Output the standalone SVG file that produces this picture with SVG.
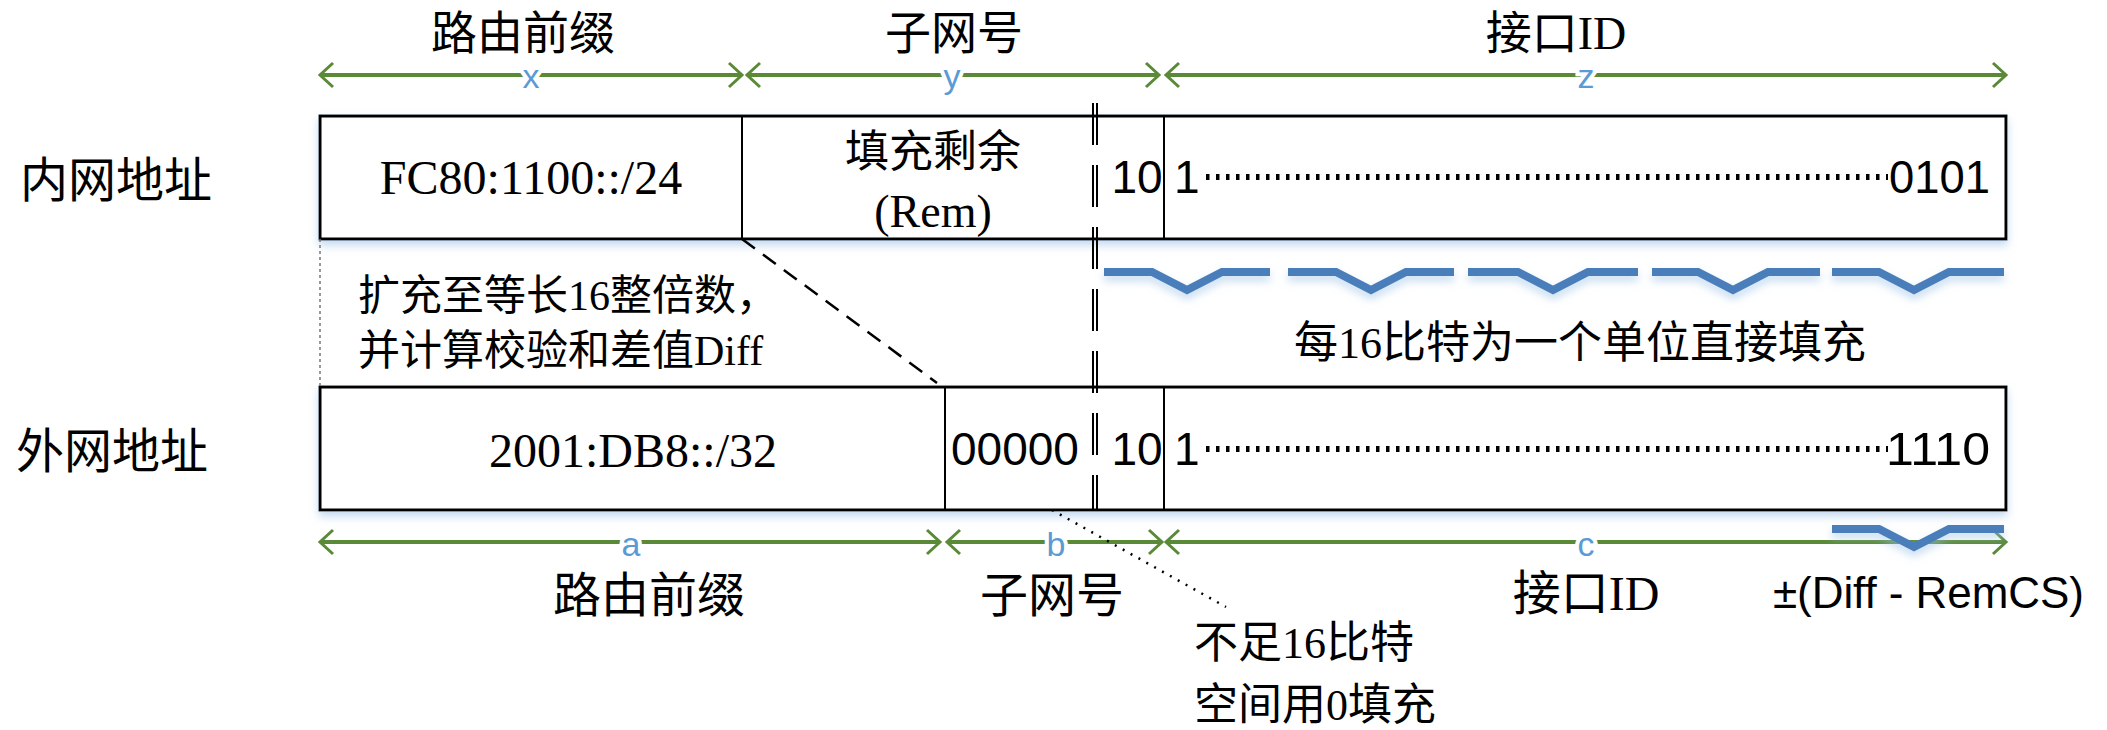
<svg xmlns="http://www.w3.org/2000/svg" width="2107" height="730" viewBox="0 0 2107 730">
<style>
.cjk{font-family:"Liberation Serif","Noto Sans CJK SC",serif;fill:#000}
.ser{font-family:"Liberation Serif","Noto Sans CJK SC",serif;fill:#000}
.sans{font-family:"Liberation Sans","Noto Sans CJK SC",sans-serif;fill:#000}
.lbl{font-family:"Liberation Sans",sans-serif;font-size:34px;fill:#5b9bd5;stroke:#fff;stroke-width:8px;paint-order:stroke;text-anchor:middle}
.box{fill:#fff;stroke:#000;stroke-width:3}
.div{stroke:#000;stroke-width:2}
.arr{stroke:#5a8a38;stroke-width:4;fill:none}
.brace{fill:none;stroke:#4a7ebb;stroke-width:8;stroke-linejoin:miter}
.dots{stroke:#000;stroke-width:6;stroke-dasharray:3.5 6.5}
</style>
<defs>
<marker id="head" viewBox="-2 -2 18 28" refX="13" refY="12" markerWidth="18" markerHeight="28" markerUnits="userSpaceOnUse" orient="auto-start-reverse">
<path d="M0,0 L13,12 L0,24" fill="none" stroke="#5a8a38" stroke-width="3"/>
</marker>
<filter id="sh" x="-5%" y="-30%" width="110%" height="180%">
<feDropShadow dx="0" dy="5" stdDeviation="4" flood-color="#9dc3e6" flood-opacity="0.6"/>
</filter>
</defs>

<g id="labels-top">
<text class="cjk" x="523" y="49" font-size="46" text-anchor="middle">路由前缀</text>
<text class="cjk" x="954" y="49" font-size="46" text-anchor="middle">子网号</text>
<text class="cjk" x="1556" y="49" font-size="46" text-anchor="middle">接口ID</text>
</g>

<g id="row-labels">
<text class="cjk" x="116" y="197" font-size="48" text-anchor="middle">内网地址</text>
<text class="cjk" x="112" y="468" font-size="48" text-anchor="middle">外网地址</text>
</g>

<g id="inner-address" filter="url(#sh)">
<rect class="box" x="320" y="116" width="1686" height="123"/>
</g>
<g id="inner-fields">
<line class="div" x1="742" y1="116" x2="742" y2="239"/>
<line class="div" x1="1164" y1="116" x2="1164" y2="239"/>
<text class="ser" x="531" y="194" font-size="48" text-anchor="middle">FC80:1100::/24</text>
<text class="cjk" x="933" y="167" font-size="44" text-anchor="middle">填充剩余</text>
<text class="ser" x="933" y="227" font-size="46" text-anchor="middle">(Rem)</text>
<text class="sans" x="1137" y="193" font-size="46" text-anchor="middle">10</text>
<text class="sans" x="1174" y="193" font-size="46">1</text>
<line class="dots" x1="1206" y1="177" x2="1888" y2="177"/>
<text class="sans" x="1889" y="193" font-size="46" textLength="101" lengthAdjust="spacingAndGlyphs">0101</text>
</g>

<g id="outer-address" filter="url(#sh)">
<rect class="box" x="320" y="387" width="1686" height="123"/>
</g>
<g id="outer-fields">
<line class="div" x1="945" y1="387" x2="945" y2="510"/>
<line class="div" x1="1164" y1="387" x2="1164" y2="510"/>
<text class="ser" x="633" y="467" font-size="48" text-anchor="middle">2001:DB8::/32</text>
<text class="sans" x="1015" y="465" font-size="46" text-anchor="middle">00000</text>
<text class="sans" x="1137" y="465" font-size="46" text-anchor="middle">10</text>
<text class="sans" x="1174" y="465" font-size="46">1</text>
<line class="dots" x1="1206" y1="449" x2="1888" y2="449"/>
<text class="sans" x="1886" y="465" font-size="46" textLength="104" lengthAdjust="spacingAndGlyphs">1110</text>
</g>

<g id="notes">
<text class="cjk" x="358" y="310" font-size="42">扩充至等长16整倍数，</text>
<text class="cjk" x="358" y="365" font-size="42">并计算校验和差值Diff</text>
<text class="cjk" x="1580" y="358" font-size="44" text-anchor="middle">每16比特为一个单位直接填充</text>
<text class="cjk" x="1194" y="658" font-size="44">不足16比特</text>
<text class="cjk" x="1194" y="720" font-size="44">空间用0填充</text>
<text class="sans" x="1773" y="608" font-size="44" textLength="311">±(Diff - RemCS)</text>
</g>

<g id="labels-bottom">
<text class="cjk" x="649" y="612" font-size="48" text-anchor="middle">路由前缀</text>
<text class="cjk" x="1052" y="612" font-size="48" text-anchor="middle">子网号</text>
<text class="cjk" x="1586" y="610" font-size="48" text-anchor="middle">接口ID</text>
</g>

<g id="connectors">
<line class="arr" x1="320" y1="75" x2="742" y2="75" marker-start="url(#head)" marker-end="url(#head)"/>
<line class="arr" x1="747" y1="75" x2="1159" y2="75" marker-start="url(#head)" marker-end="url(#head)"/>
<line class="arr" x1="1166" y1="75" x2="2006" y2="75" marker-start="url(#head)" marker-end="url(#head)"/>
<line class="arr" x1="320" y1="542" x2="940" y2="542" marker-start="url(#head)" marker-end="url(#head)"/>
<line class="arr" x1="947" y1="542" x2="1162" y2="542" marker-start="url(#head)" marker-end="url(#head)"/>
<line class="arr" x1="1166" y1="542" x2="2006" y2="542" marker-start="url(#head)" marker-end="url(#head)"/>
<line x1="1093" y1="103" x2="1093" y2="510" stroke="#000" stroke-width="2" stroke-dasharray="42 20"/>
<line x1="1097" y1="103" x2="1097" y2="510" stroke="#000" stroke-width="2" stroke-dasharray="42 20"/>
<line x1="320" y1="239" x2="320" y2="387" stroke="#777" stroke-width="1.5" stroke-dasharray="3 3"/>
<line x1="742" y1="239" x2="937" y2="383" stroke="#000" stroke-width="2.5" stroke-dasharray="16 10"/>
<line x1="1052" y1="510" x2="1226" y2="607" stroke="#000" stroke-width="2.5" stroke-dasharray="2 7"/>
</g>

<g id="dim-labels">
<text class="lbl" x="531" y="88">x</text>
<text class="lbl" x="952" y="88">y</text>
<text class="lbl" x="1586" y="88">z</text>
<text class="lbl" x="631" y="556">a</text>
<text class="lbl" x="1056" y="556">b</text>
<text class="lbl" x="1586" y="556">c</text>
</g>

<g id="braces" filter="url(#sh)">
<path class="brace" d="M1104,272 L1152,272 L1187,290 L1222,272 L1270,272"/>
<path class="brace" d="M1288,272 L1336,272 L1371,290 L1406,272 L1454,272"/>
<path class="brace" d="M1468,272 L1518,272 L1553,290 L1588,272 L1638,272"/>
<path class="brace" d="M1652,272 L1698,272 L1733,290 L1768,272 L1820,272"/>
<path class="brace" d="M1832,272 L1879,272 L1914,290 L1949,272 L2004,272"/>
<path class="brace" d="M1832,529 L1879,529 L1914,547 L1949,529 L2004,529"/>
</g>
</svg>
